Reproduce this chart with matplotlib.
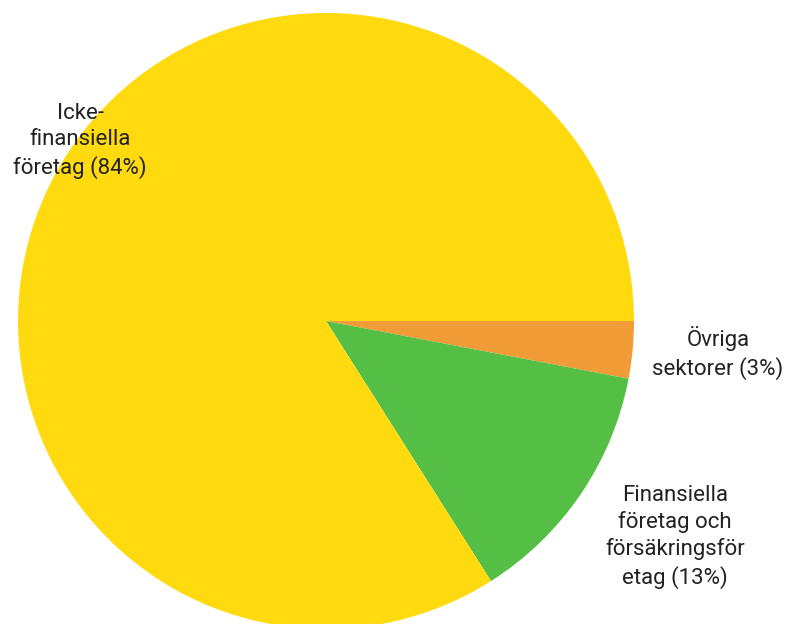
import matplotlib.pyplot as plt

labels = ["Övriga\nsektorer (3%)",
          "Finansiella\nföretag och\nförsäkringsför\netag (13%)",
          "Icke-\nfinansiella\nföretag (84%)"]
values = [3, 13, 84]
colors = ["#F29C38", "#55BF45", "#FFDA0F"]

W, H = 789, 624
fig = plt.figure(figsize=(W / 100, H / 100), dpi=100)
ax = fig.add_axes([0, 0, 1, 1])

ax.pie(values, colors=colors, startangle=0, counterclock=False,
       center=(326, H - 321), radius=308, frame=True,
       wedgeprops=dict(linewidth=0))
ax.set_xlim(0, W)
ax.set_ylim(0, H)
ax.set_aspect("equal")
ax.axis("off")

# label positions (pixel coords of each text block centre)
label_pos = [(718, H - 353), (675, H - 537), (80, H - 141)]
for txt, (x, y) in zip(labels, label_pos):
    ax.text(x, y, txt, ha="center", va="center", fontsize=16,
            family="Roboto", color="#222222", linespacing=1.3)

fig.savefig("out.png", dpi=100)
